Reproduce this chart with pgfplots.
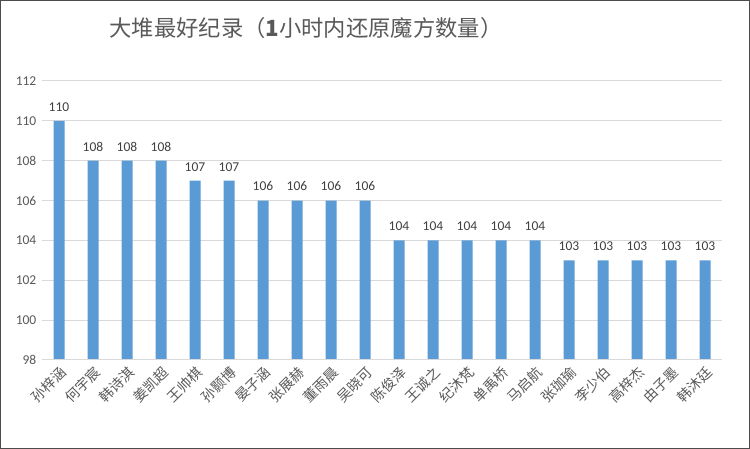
\documentclass[border=0pt]{standalone}
\usepackage{pgfplots}
\pgfplotsset{compat=1.18}
\usepackage{fontspec}
\setmainfont{Carlito}
\newfontfamily\cjk{Noto Sans CJK SC}
\definecolor{barblue}{HTML}{5B9BD5}
\definecolor{gridgray}{HTML}{D9D9D9}
\definecolor{txtgray}{HTML}{595959}
\definecolor{lblgray}{HTML}{404040}
\begin{document}
\begin{tikzpicture}[x=1pt,y=1pt]
\draw[draw=black!70, line width=1.2pt, fill=white] (0.6,0.6) rectangle (749.4,448.4);
\node[font=\cjk\fontsize{22.3}{25}\selectfont, text=txtgray, anchor=center] at (306,421) {大堆最好纪录（\textbf{1}小时内还原魔方数量）};
\begin{axis}[
    at={(42pt,89pt)}, anchor=south west,
    width=680pt, height=279pt, scale only axis,
    xmin=-0.5, xmax=19.5,
    ymin=98, ymax=112,
    ytick={98,100,...,112},
    xtick={0,...,19},
    xticklabels={孙梓涵,何宇宸,韩诗淇,姜凯超,王帅棋,孙颢博,晏子涵,张展赫,董雨晨,吴晓可,陈俊泽,王诚之,纪沐梵,单禹桥,马启航,张珈瑜,李少伯,高梓杰,由子墨,韩沐廷},
    x tick label style={font=\cjk\fontsize{14}{16}\selectfont, text=txtgray, rotate=45, anchor=east, xshift=3pt, yshift=-7pt},
    y tick label style={font=\fontsize{13.5}{15}\selectfont, text=txtgray},
    /pgf/number format/assume math mode=true,
    axis line style={draw=none},
    axis x line*=bottom,
    axis y line=left,
    major tick style={draw=none},
    ymajorgrids=true,
    grid style={gridgray, line width=1pt},
    ybar, bar width=11pt,
    nodes near coords,
    every node near coord/.append style={font=\fontsize{13.5}{15}\selectfont, text=lblgray, yshift=6pt},
    clip=false,
]
\addplot[fill=barblue, draw=none] coordinates {
(0,110) (1,108) (2,108) (3,108) (4,107) (5,107) (6,106) (7,106) (8,106) (9,106)
(10,104) (11,104) (12,104) (13,104) (14,104) (15,103) (16,103) (17,103) (18,103) (19,103)
};
\draw[gridgray, line width=1pt] (axis cs:-0.5,98) -- (axis cs:19.5,98);
\end{axis}
\end{tikzpicture}
\end{document}
